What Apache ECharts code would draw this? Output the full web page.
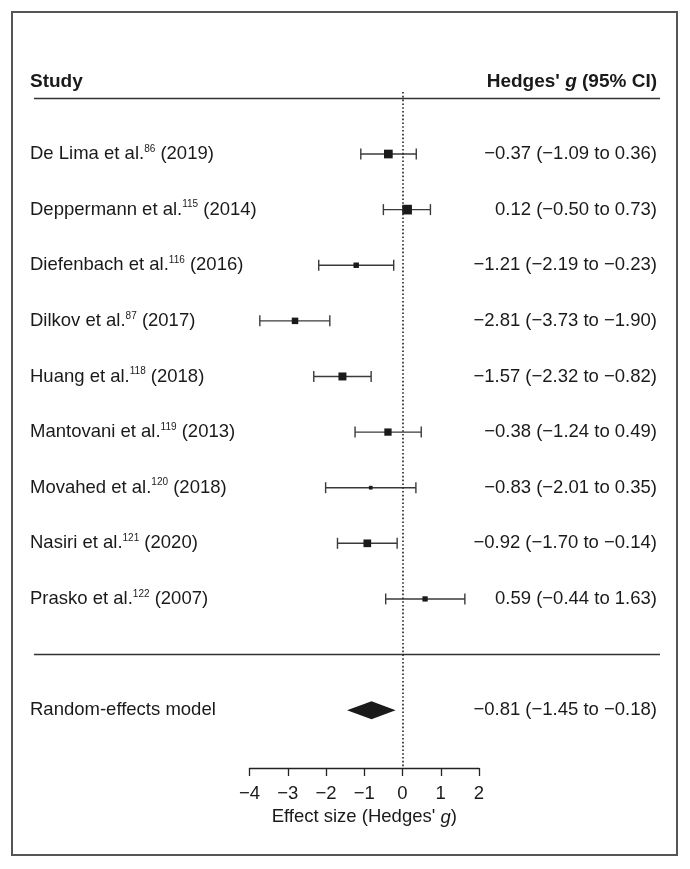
<!DOCTYPE html>
<html><head><meta charset="utf-8">
<script src="https://cdn.jsdelivr.net/npm/echarts@6/dist/echarts.min.js"></script>
<style>html,body{margin:0;padding:0;background:#fff}#c{width:690px;height:869px}</style>
</head><body><div id="c"></div><script>
// ---- data ----
const studies = ['De Lima et al.', 'Deppermann et al.', 'Diefenbach et al.', 'Dilkov et al.', 'Huang et al.', 'Mantovani et al.', 'Movahed et al.', 'Nasiri et al.', 'Prasko et al.'];
const refs = ['86', '115', '116', '87', '118', '119', '120', '121', '122'];
const years = ['2019', '2014', '2016', '2017', '2018', '2013', '2018', '2020', '2007'];
const effect = [-0.37, 0.12, -1.21, -2.81, -1.57, -0.38, -0.83, -0.92, 0.59];
const ciLow = [-1.09, -0.50, -2.19, -3.73, -2.32, -1.24, -2.01, -1.70, -0.44];
const ciHigh = [0.36, 0.73, -0.23, -1.90, -0.82, 0.49, 0.35, -0.14, 1.63];
const weights = [16.5, 20.5, 6.5, 9.2, 13.9, 11.6, 3.0, 12.9, 6.1];
const modelName = 'Random-effects model';
const model = [-0.81, -1.45, -0.18];
const xTicks = [-4, -3, -2, -1, 0, 1, 2];

// ---- layout ----
const FONT = '"Liberation Sans", Arial, Helvetica, sans-serif';
const FS = 18.5;
const HFS = 19;
const LEFT_X = 30, RIGHT_X = 657;
const MODEL_ROW = 10;
const fmt = v => v.toFixed(2).replace('-', '\u2212');
const minus = s => String(s).replace('-', '\u2212');

const chart = echarts.init(document.getElementById('c'), null, {renderer: 'canvas'});

const studyData = effect.map((e, i) => [e, ciLow[i], ciHigh[i], i, weights[i]]);

const textStyleRich = {
  m: {fontSize: FS, fontFamily: FONT, fill: '#1a1a1a', color: '#1a1a1a', lineHeight: 20},
  s: {fontSize: 10, fontFamily: FONT, fill: '#1a1a1a', color: '#1a1a1a', verticalAlign: 'top', lineHeight: 11}
};

function studyItem(params, api) {
  const i = params.dataIndex;
  const pe = api.coord([api.value(0), api.value(3)]);
  const pl = api.coord([api.value(1), api.value(3)]);
  const ph = api.coord([api.value(2), api.value(3)]);
  const y = pe[1];
  const s = 2.14 * Math.sqrt(api.value(4));
  const ls = {stroke: '#3a3a3a', lineWidth: 1.4};
  return {type: 'group', children: [
    {type: 'line', shape: {x1: pl[0], y1: y, x2: ph[0], y2: y}, style: ls},
    {type: 'line', shape: {x1: pl[0], y1: y - 5.5, x2: pl[0], y2: y + 5.5}, style: ls},
    {type: 'line', shape: {x1: ph[0], y1: y - 5.5, x2: ph[0], y2: y + 5.5}, style: ls},
    {type: 'rect', shape: {x: pe[0] - s / 2, y: y - s / 2, width: s, height: s}, style: {fill: '#1a1a1a'}},
    {type: 'text', x: LEFT_X, y: y, style: {
      text: '{m|' + studies[i] + '}{s|' + refs[i] + '}{m| (' + years[i] + ')}',
      rich: textStyleRich, align: 'left', verticalAlign: 'middle', textAlign: 'left', textVerticalAlign: 'middle'}},
    {type: 'text', x: RIGHT_X, y: y, style: {
      text: fmt(effect[i]) + ' (' + fmt(ciLow[i]) + ' to ' + fmt(ciHigh[i]) + ')',
      font: FS + 'px ' + FONT, fill: '#1a1a1a', align: 'right', verticalAlign: 'middle', textAlign: 'right', textVerticalAlign: 'middle'}}
  ]};
}

function modelItem(params, api) {
  const pe = api.coord([api.value(0), MODEL_ROW]);
  const pl = api.coord([api.value(1), MODEL_ROW]);
  const ph = api.coord([api.value(2), MODEL_ROW]);
  const y = pe[1], h = 9;
  return {type: 'group', children: [
    {type: 'polygon', shape: {points: [[pl[0], y], [pe[0], y - h], [ph[0], y], [pe[0], y + h]]}, style: {fill: '#1a1a1a'}},
    {type: 'text', x: LEFT_X, y: y, style: {text: modelName, font: FS + 'px ' + FONT, fill: '#1a1a1a', align: 'left', verticalAlign: 'middle', textAlign: 'left', textVerticalAlign: 'middle'}},
    {type: 'text', x: RIGHT_X, y: y, style: {
      text: fmt(model[0]) + ' (' + fmt(model[1]) + ' to ' + fmt(model[2]) + ')',
      font: FS + 'px ' + FONT, fill: '#1a1a1a', align: 'right', verticalAlign: 'middle', textAlign: 'right', textVerticalAlign: 'middle'}}
  ]};
}

chart.setOption({
  animation: false,
  backgroundColor: '#fff',
  textStyle: {fontFamily: FONT},
  grid: {left: 249.5, right: 211, top: 92, bottom: 101, containLabel: false},
  xAxis: {
    type: 'value', min: xTicks[0], max: xTicks[xTicks.length - 1], interval: 1,
    splitLine: {show: false},
    axisLine: {show: true, onZero: false, lineStyle: {color: '#222', width: 1.3}},
    axisTick: {show: true, inside: false, length: 8, lineStyle: {color: '#222', width: 1.3}},
    axisLabel: {fontSize: FS, color: '#1a1a1a', margin: 16, fontFamily: FONT, formatter: v => minus(v)},
    name: "Effect size (Hedges' {i|g})",
    nameLocation: 'middle', nameGap: 39,
    nameTextStyle: {fontSize: FS, color: '#1a1a1a', fontFamily: FONT,
      rich: {i: {fontSize: FS, fontStyle: 'italic', color: '#1a1a1a', fontFamily: FONT}}}
  },
  yAxis: {type: 'value', inverse: true, min: -1.115, max: 11.04, show: false},
  graphic: [
    {type: 'rect', shape: {x: 12, y: 12, width: 665, height: 843}, style: {fill: 'none', stroke: '#555', lineWidth: 2}, silent: true},
    {type: 'line', shape: {x1: 34, y1: 98.5, x2: 660, y2: 98.5}, style: {stroke: '#333', lineWidth: 1.3}},
    {type: 'line', shape: {x1: 34, y1: 654.5, x2: 660, y2: 654.5}, style: {stroke: '#333', lineWidth: 1.3}},
    {type: 'text', x: LEFT_X, y: 82, style: {text: 'Study', font: 'bold ' + HFS + 'px ' + FONT, fill: '#1a1a1a', textVerticalAlign: 'middle', verticalAlign: 'middle'}},
    {type: 'text', x: RIGHT_X, y: 82, style: {
      text: "{b|Hedges' }{bi|g}{b| (95% CI)}",
      rich: {
        b: {fontSize: HFS, fontWeight: 'bold', fontFamily: FONT, fill: '#1a1a1a', color: '#1a1a1a'},
        bi: {fontSize: HFS, fontWeight: 'bold', fontStyle: 'italic', fontFamily: FONT, fill: '#1a1a1a', color: '#1a1a1a'}
      },
      align: 'right', textAlign: 'right', verticalAlign: 'middle', textVerticalAlign: 'middle'}}
  ],
  series: [
    {type: 'custom', name: 'studies', renderItem: studyItem, data: studyData, encode: {x: [0, 1, 2], y: 3}, clip: false, z: 3,
      markLine: {silent: true, symbol: 'none', label: {show: false},
        lineStyle: {color: '#222', width: 1.6, type: [1.6, 2.2]}, data: [{xAxis: 0}]}},
    {type: 'custom', name: 'model', renderItem: modelItem, data: [model], encode: {x: [0, 1, 2]}, clip: false, z: 3}
  ]
});
</script></body></html>
